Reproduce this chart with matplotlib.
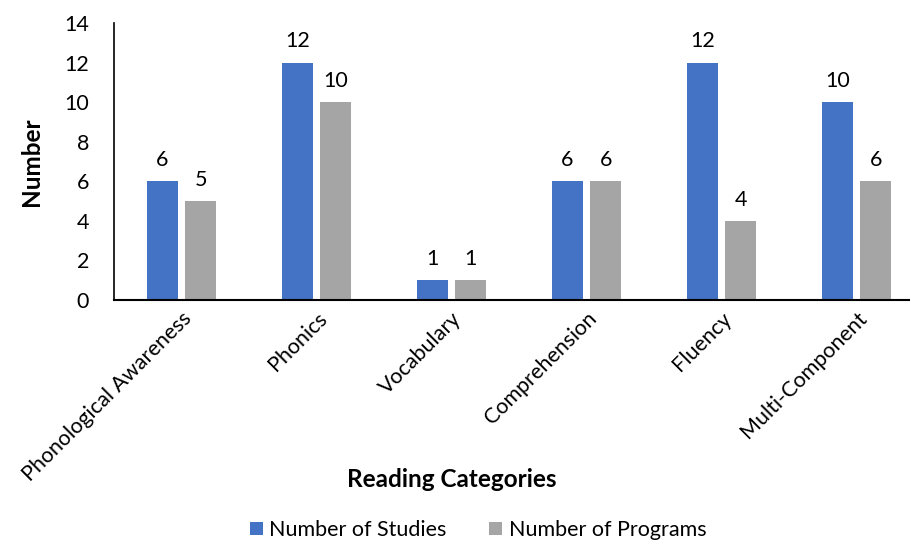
import matplotlib
matplotlib.use("Agg")
import matplotlib.pyplot as plt
import numpy as np

plt.rcParams['font.family'] = ['Lato', 'DejaVu Sans']

categories = ['Phonological Awareness', 'Phonics', 'Vocabulary',
              'Comprehension', 'Fluency', 'Multi-Component']
studies = [6, 12, 1, 6, 12, 10]
programs = [5, 10, 1, 6, 4, 6]

fig = plt.figure(figsize=(9.1, 5.43), dpi=100)
ax = fig.add_axes([114/910, 1 - 300/543, (910 - 114)/910, 277/543])

x = np.arange(len(categories))
w = 0.23
b1 = ax.bar(x - 0.143, studies, w, color='#4472C4', label='Number of Studies')
b2 = ax.bar(x + 0.143, programs, w, color='#A5A5A5', label='Number of Programs')

for bars, vals in [(b1, studies), (b2, programs)]:
    for r, v in zip(bars, vals):
        ax.annotate(str(v), (r.get_x() + r.get_width()/2, v),
                    xytext=(0, 8), textcoords='offset points',
                    ha='center', va='bottom', fontsize=15.5)

ax.set_xlim(-0.5, -0.5 + 796/135)
ax.set_ylim(0, 14)
ax.set_yticks(range(0, 15, 2))
ax.tick_params(axis='y', length=0, labelsize=15.5, pad=18)
ax.tick_params(axis='x', length=0, labelsize=15.5, pad=6)
ax.set_xticks(x)
ax.set_xticklabels(categories, rotation=45, ha='right', rotation_mode='anchor')

for s in ['top', 'right']:
    ax.spines[s].set_visible(False)
ax.spines['left'].set_linewidth(1.2)
ax.spines['bottom'].set_linewidth(1.5)

ax.set_ylabel('Number', fontsize=17.5, fontweight='bold')
ax.yaxis.set_label_coords(-(114 - 43)/796, 0.5)
ax.set_xlabel('Reading Categories', fontsize=17.5, fontweight='bold')
ax.xaxis.set_label_coords((452 - 114)/796, -(468 - 300)/277)

fig.legend(handles=[b1, b2], loc='center', bbox_to_anchor=(478/910, 1 - 530/543),
           ncol=2, frameon=False, fontsize=15.5, handlelength=0.6, handleheight=0.6,
           columnspacing=2.0, handletextpad=0.3)

fig.savefig('out.png', dpi=100)
